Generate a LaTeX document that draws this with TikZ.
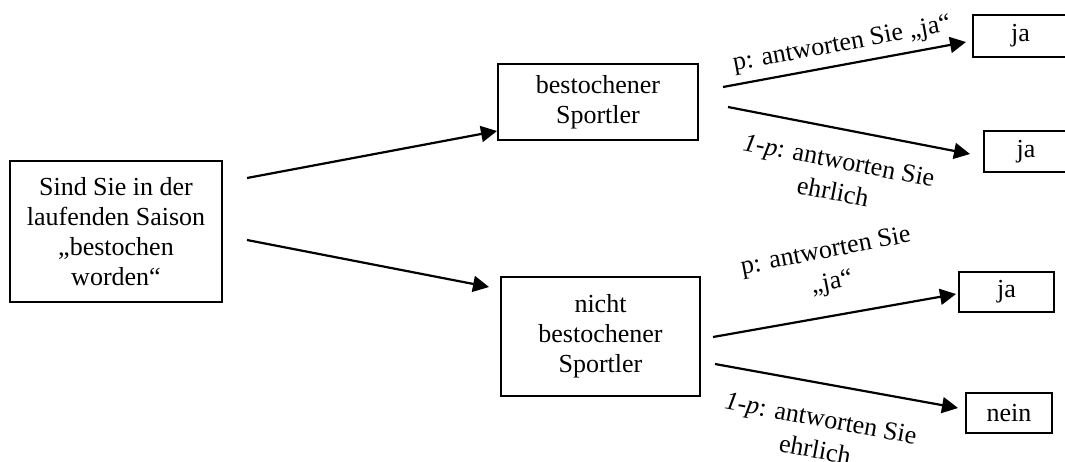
\documentclass[tikz,border=0pt]{standalone}
\usepackage{fontspec}
\setmainfont{Liberation Serif}
\usetikzlibrary{arrows.meta}

\tikzset{
  box/.style={draw, line width=1.1pt, align=center, inner sep=0pt, font=\fontsize{13}{15}\selectfont},
  beschr/.style={align=center, inner sep=0pt, font=\fontsize{13}{16}\selectfont},
  pfeil/.style={line width=1.1pt, -{Triangle[length=8pt,width=8pt]}},
}

\begin{document}
\begin{tikzpicture}[x=0.5pt,y=-0.5pt]
    \useasboundingbox (0,0) rectangle (1065,461);
    \clip (0,0) rectangle (1065,461);

    % Kaestchen
    \node[box, minimum width=106pt, minimum height=70.5pt] (frage) at (116,231.5) {Sind Sie in der\\laufenden Saison\\„bestochen\\worden“};
    \node[box, minimum width=100pt, minimum height=38pt] (best) at (598,102) {bestochener\\Sportler};
    \node[box, minimum width=99.5pt, minimum height=59.5pt] (nbest) at (600.5,336.5) {nicht\\bestochener\\Sportler};
    \node[box, minimum width=47.5pt, minimum height=21pt] (ja1) at (1020.5,36) {ja};
    \node[box, minimum width=42pt, minimum height=20.5pt] (ja2) at (1026,151.5) {ja};
    \node[box, minimum width=47.5pt, minimum height=20pt] (ja3) at (1006.5,292) {ja};
    \node[box, minimum width=43pt, minimum height=20pt] (nein) at (1009,413) {nein};

    % Pfeilenden
    \coordinate (a1s) at (247,178);
    \coordinate (a1e) at (497,131);
    \coordinate (a2s) at (247,240);
    \coordinate (a2e) at (489,287);
    \coordinate (a3s) at (723,87);
    \coordinate (a3e) at (966,42);
    \coordinate (a4s) at (728,107);
    \coordinate (a4e) at (970,154);
    \coordinate (a5s) at (713,337);
    \coordinate (a5e) at (956,294);
    \coordinate (a6s) at (715,364);
    \coordinate (a6e) at (958,408);

    \draw[pfeil] (a1s) -- (a1e);
    \draw[pfeil] (a2s) -- (a2e);
    \draw[pfeil] (a3s) -- (a3e);
    \draw[pfeil] (a4s) -- (a4e);
    \draw[pfeil] (a5s) -- (a5e);
    \draw[pfeil] (a6s) -- (a6e);

    % Beschriftungen
    \node[beschr, rotate=10.5] (l1) at (842,45) {p: antworten Sie „ja“};
    \node[beschr, rotate=-11] (l2) at (836,176) {\textit{1-p}: antworten Sie\\ehrlich};
    \node[beschr, rotate=11] (l3) at (829,268) {p: antworten Sie\\„ja“};
    \node[beschr, rotate=-10.5] (l4) at (818,434) {\textit{1-p}: antworten Sie\\ehrlich};
\end{tikzpicture}
\end{document}
